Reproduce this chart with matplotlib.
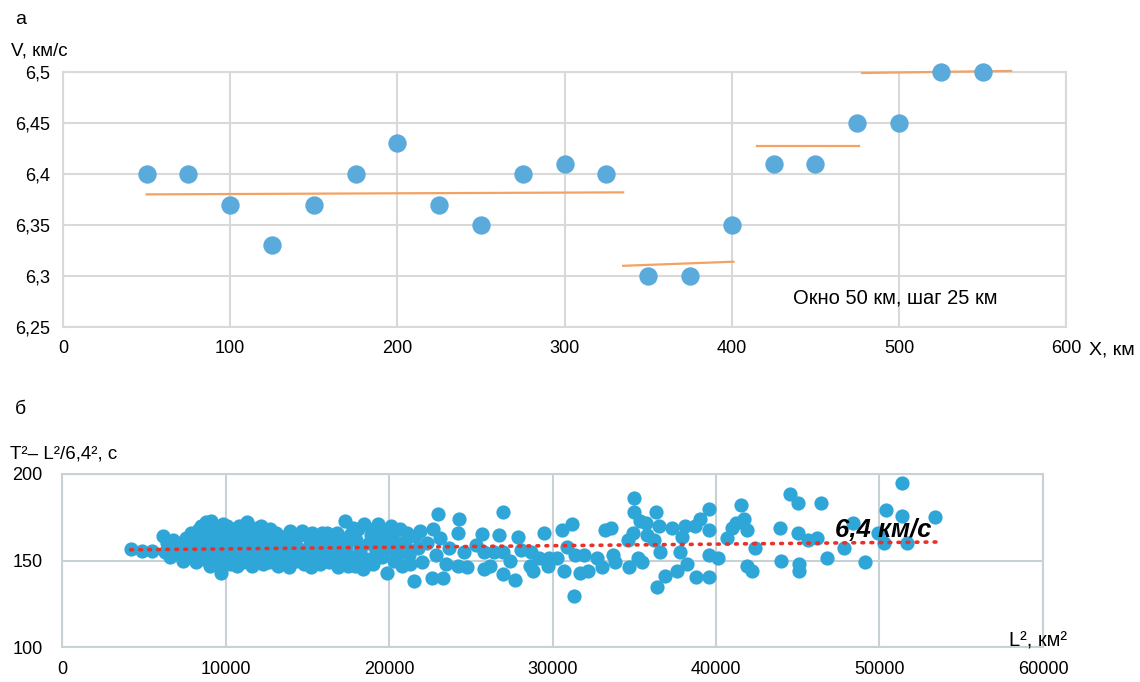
import matplotlib.pyplot as plt
from matplotlib.ticker import FuncFormatter

plt.rcParams['font.family'] = ['Liberation Sans', 'DejaVu Sans']

# --- (а) скорость по окнам ---
x_win = [50, 75, 100, 125, 150, 175, 200, 225, 250, 275, 300, 325,
         350, 375, 400, 425, 450, 475, 500, 525, 550]
v_win = [6.40, 6.40, 6.37, 6.33, 6.37, 6.40, 6.43, 6.37, 6.35, 6.40, 6.41, 6.40,
         6.30, 6.30, 6.35, 6.41, 6.41, 6.45, 6.45, 6.50, 6.50]

# отрезки средних значений (x0, x1, v0, v1)
seg_x = [(50, 335), (335, 401), (415, 476), (478, 567)]
seg_v = [(6.380, 6.382), (6.310, 6.314), (6.427, 6.427), (6.499, 6.501)]

# --- (б) годограф ---
# плотная часть, 4000-24000 км2
L2_near = [4200, 4900, 5500,
      6200, 6400, 6300, 6600, 6800, 6900, 7100, 7300, 7400, 7600, 7700, 7900, 7900,
      8100, 8200, 8300, 8400, 8500, 8600, 8700, 8800, 8900, 9000, 9100, 9200, 9300,
      9400, 9500, 9600, 9700, 9800, 9900, 9950,
      10100, 10200, 10300, 10400, 10500, 10600, 10700, 10800, 10900, 11000, 11200,
      11300, 11400, 11500, 11600, 11700, 11800, 11900, 12000,
      12100, 12300, 12400, 12500, 12700, 12800, 12900, 13000, 13200, 13300, 13400,
      13600, 13700, 13900, 13950, 14000,
      14200, 14300, 14500, 14600, 14800, 15000, 15100, 15200, 15400, 15500, 15700,
      15800, 15900,
      16100, 16200, 16300, 16500, 16700, 16900, 17000, 17200, 17300, 17400, 17600,
      17700, 17900, 18000,
      18100, 18200, 18400, 18500, 18600, 18800, 18900, 19000, 19200, 19300, 19400,
      19600, 19700, 19900, 20000,
      20200, 20300, 20500, 20700, 20800, 21000, 21200, 21500, 21600, 21800, 21900, 22000,
      22300, 22600, 22700, 22900, 23000, 23100, 23300, 23500, 23700,
      8350, 8650, 9050, 9350, 9650, 9850, 10050, 10350, 10650, 10850, 11050, 11350,
      11550, 11750, 12150, 12250, 12600, 12650, 13100, 13500, 13800, 14100, 14400,
      14700, 14900, 15300, 15600, 16000, 16400, 16600, 16800, 17100, 17500, 17800,
      18300, 18700, 19100, 19500, 19800, 20100, 20400, 20600, 21100, 21300]
T2_near = [156.4, 155.6, 155.6,
      164, 160, 155, 152, 162, 157, 154, 160, 150, 163, 156, 152, 166,
      158, 149, 164, 155, 170, 160, 151, 172, 166, 156, 173, 148, 162,
      169, 153, 158, 143, 166, 150, 161,
      170, 155, 148, 164, 159, 168, 147, 153, 162, 157, 167,
      172, 150, 160, 147, 155, 165, 169, 152,
      160, 148, 156, 166, 168, 151, 161, 155, 147, 164, 158,
      150, 162, 146, 167, 155,
      160, 150, 165, 155, 148, 164, 158, 146, 152, 162, 156,
      148, 166,
      154, 166, 149, 160, 155, 146, 163, 150, 173, 158, 165,
      152, 147, 162,
      168, 156, 145, 171, 151, 160, 165, 148, 155, 171, 162,
      152, 167, 143, 157,
      163, 150, 155, 168, 147, 160, 153, 138, 164, 157, 167, 149,
      160, 140, 168, 153, 177, 163, 140, 148, 157,
      168, 153, 147, 166, 150, 171, 152, 166, 163, 170, 149, 164,
      169, 160, 170, 163, 158, 149, 166, 153, 157, 163, 158,
      167, 152, 166, 149, 160, 163, 150, 166, 156, 147, 169,
      152, 148, 168, 158, 163, 170, 152, 160, 166, 148]

# редкая часть, 24000-54000 км2
L2_far = [24300, 27000, 25700, 26700, 24200, 27900, 29500, 30600, 31200, 33200, 33600,
      24600, 25300, 25800, 26400, 27000, 27400, 28100, 28700, 29200, 29800, 30300,
      30900, 31400, 31900, 32700, 33700, 24200, 24800, 25800, 26200, 27000, 27700,
      28800, 28600, 29700, 30700, 31300, 31700, 32200, 33000, 33800,
      35000, 35000, 35350, 35700, 36300, 36500, 37300, 38100, 38700, 39000, 39600,
      39600, 41500, 41700, 41200, 41000, 41900, 43900, 34600, 34900, 35800, 36200,
      37900, 40700, 42400, 36600, 37800, 39600, 40100, 35200, 35500, 34700, 38200,
      37600, 36900, 36400, 38800, 39600, 41900, 42200, 44000,
      44500, 45000, 46400, 45000, 45600, 46200, 47800, 48400, 46800, 45100, 45100,
      49100, 49900, 50400, 50300, 51400, 51400, 51700, 53400]
T2_far = [173.8, 178, 165.6, 164.5, 166, 163.6, 166, 167.5, 171, 167.5, 169,
      154.7, 158.7, 154.7, 154.7, 154.7, 150, 155.8, 154.7, 151.7, 151.7, 151.7,
      157.6, 152.9, 152.9, 151.7, 152.9, 147, 146, 145.3, 147, 142.4, 139,
      144, 147, 147, 144, 129.6, 143, 144, 146, 149,
      186, 178, 173, 171.5, 178, 170, 169, 170, 170, 174, 180,
      167.5, 182, 174, 171.5, 168.5, 167.5, 168.5, 161.6, 165.7, 164.5, 161.6,
      163.4, 162.8, 157, 154.7, 154.7, 153, 151.2, 151.7, 149, 146, 148,
      144, 141.3, 134.5, 140.7, 140.7, 147, 144, 150,
      188.5, 183, 183, 165.7, 161.6, 162.8, 157, 171.5, 151.7, 148, 144,
      149, 166, 179, 160, 194.8, 176, 160, 175]

trend_L2 = [4200, 53500]
trend_T2 = [156.2, 160.7]

fig = plt.figure(figsize=(11.4, 6.82), dpi=100)

ax1 = fig.add_axes([0.0553, 0.5205, 0.880, 0.374])
ax1.scatter(x_win, v_win, s=175, color='#5aaadc', zorder=4, clip_on=False, linewidths=0)
for (xa, xb), (va, vb) in zip(seg_x, seg_v):
    ax1.plot([xa, xb], [va, vb], color='#f4a261', lw=1.6, zorder=3, clip_on=False)
ax1.set_xlim(0, 600)
ax1.set_ylim(6.25, 6.5)
ax1.set_xticks(range(0, 601, 100))
ax1.set_yticks([6.25, 6.3, 6.35, 6.4, 6.45, 6.5])
ax1.yaxis.set_major_formatter(FuncFormatter(lambda v, p: ('%g' % v).replace('.', ',')))
ax1.grid(True, color='#d9d9d9', lw=1.5)
ax1.set_axisbelow(True)
for s in ax1.spines.values():
    s.set_color('#d9d9d9')
    s.set_linewidth(1.5)
    s.set_zorder(1)
ax1.tick_params(length=0, labelsize=13, pad=9)
ax1.text(498, 6.278, 'Окно 50 км, шаг 25 км', fontsize=14.5, ha='center', va='center')
fig.text(0.013, 0.965, 'а', fontsize=14)
fig.text(0.010, 0.918, 'V, км/с', fontsize=13.5)
fig.text(0.955, 0.480, 'X, км', fontsize=14)

ax2 = fig.add_axes([0.0544, 0.0513, 0.8605, 0.2537])
ax2.scatter(L2_near + L2_far, T2_near + T2_far, s=105, color='#2ea6d8',
            zorder=3, linewidths=0)
ax2.plot(trend_L2, trend_T2, color='#e8312a', lw=2.6, ls=(0, (0.5, 2.0)),
         dash_capstyle='round', zorder=4)
ax2.set_xlim(0, 60000)
ax2.set_ylim(100, 200)
ax2.set_xticks(range(0, 60001, 10000))
ax2.set_yticks([100, 150, 200])
ax2.grid(True, color='#c8d2d6', lw=1.5)
ax2.set_axisbelow(True)
for s in ax2.spines.values():
    s.set_color('#c8d2d6')
    s.set_linewidth(1.5)
ax2.tick_params(length=0, labelsize=13, pad=10)
ax2.tick_params(axis='y', pad=14)
ax2.text(47300, 167.5, '6,4 км/с', fontsize=18.5, fontweight='bold', fontstyle='italic',
         va='center', ha='left', zorder=5)
fig.text(0.013, 0.393, 'б', fontsize=14)
fig.text(0.009, 0.327, 'T²– L²/6,4², с', fontsize=13.5)
fig.text(0.885, 0.052, 'L², км²', fontsize=14.5)

fig.savefig('out.png', dpi=100)
